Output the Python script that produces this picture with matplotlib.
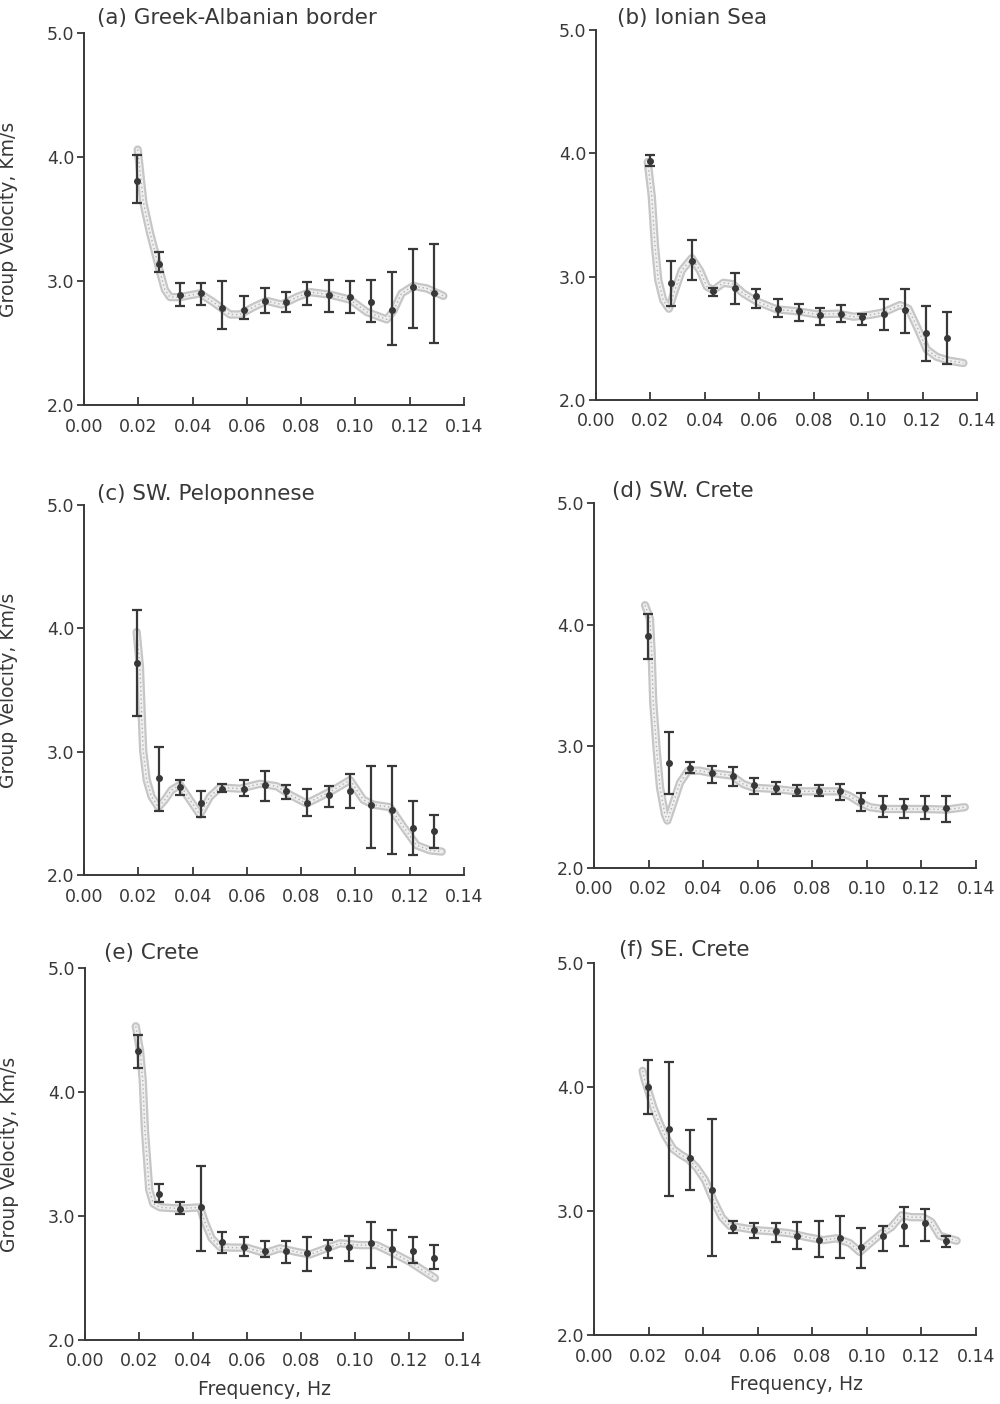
import matplotlib
matplotlib.use("Agg")
import matplotlib.pyplot as plt

plt.rcParams['font.family'] = ['DejaVu Sans']

# ---------------- data ----------------
freq = [0.0197, 0.0275, 0.0352, 0.0431, 0.0509, 0.0588, 0.0667, 0.0745,
        0.0823, 0.0901, 0.0979, 0.1058, 0.1136, 0.1213, 0.1291]

titles = ["(a) Greek-Albanian border", "(b) Ionian Sea", "(c) SW. Peloponnese",
          "(d) SW. Crete", "(e) Crete", "(f) SE. Crete"]

# measured group velocities (km/s) and error bar limits
vel_a = [3.81, 3.14, 2.89, 2.90, 2.78, 2.77, 2.84, 2.83, 2.90, 2.89, 2.87, 2.83, 2.77, 2.95, 2.90]
top_a = [4.02, 3.23, 2.98, 2.98, 3.00, 2.88, 2.94, 2.91, 2.99, 3.01, 3.00, 3.01, 3.07, 3.26, 3.30]
bot_a = [3.63, 3.07, 2.80, 2.81, 2.61, 2.69, 2.74, 2.75, 2.81, 2.75, 2.74, 2.67, 2.48, 2.62, 2.50]

vel_b = [3.94, 2.95, 3.13, 2.88, 2.91, 2.84, 2.74, 2.72, 2.69, 2.70, 2.67, 2.70, 2.73, 2.54, 2.50]
top_b = [3.99, 3.13, 3.30, 2.91, 3.03, 2.90, 2.82, 2.78, 2.75, 2.77, 2.70, 2.82, 2.90, 2.76, 2.71]
bot_b = [3.90, 2.76, 2.97, 2.84, 2.78, 2.75, 2.67, 2.64, 2.61, 2.63, 2.61, 2.57, 2.54, 2.32, 2.29]

vel_c = [3.72, 2.79, 2.71, 2.58, 2.70, 2.70, 2.73, 2.68, 2.58, 2.65, 2.68, 2.57, 2.53, 2.38, 2.36]
top_c = [4.15, 3.04, 2.77, 2.68, 2.74, 2.77, 2.84, 2.73, 2.70, 2.72, 2.82, 2.88, 2.88, 2.60, 2.49]
bot_c = [3.29, 2.52, 2.65, 2.47, 2.67, 2.64, 2.60, 2.62, 2.48, 2.55, 2.54, 2.22, 2.17, 2.16, 2.22]

vel_d = [3.91, 2.86, 2.82, 2.78, 2.76, 2.68, 2.66, 2.63, 2.63, 2.63, 2.55, 2.50, 2.50, 2.49, 2.49]
top_d = [4.09, 3.12, 2.87, 2.84, 2.83, 2.74, 2.71, 2.68, 2.68, 2.69, 2.62, 2.59, 2.57, 2.59, 2.59]
bot_d = [3.72, 2.61, 2.78, 2.70, 2.67, 2.61, 2.61, 2.59, 2.59, 2.56, 2.47, 2.42, 2.41, 2.40, 2.38]

vel_e = [4.33, 3.18, 3.06, 3.07, 2.79, 2.75, 2.72, 2.72, 2.70, 2.74, 2.75, 2.78, 2.73, 2.72, 2.66]
top_e = [4.46, 3.26, 3.11, 3.40, 2.87, 2.83, 2.80, 2.80, 2.83, 2.81, 2.84, 2.95, 2.89, 2.83, 2.77]
bot_e = [4.19, 3.11, 3.02, 2.72, 2.70, 2.68, 2.67, 2.62, 2.56, 2.66, 2.64, 2.58, 2.59, 2.62, 2.57]

vel_f = [4.00, 3.66, 3.43, 3.17, 2.87, 2.85, 2.84, 2.80, 2.77, 2.78, 2.71, 2.80, 2.88, 2.90, 2.76]
top_f = [4.22, 4.20, 3.65, 3.74, 2.92, 2.90, 2.90, 2.91, 2.92, 2.96, 2.86, 2.88, 3.03, 3.02, 2.80]
bot_f = [3.78, 3.12, 3.17, 2.64, 2.82, 2.78, 2.75, 2.69, 2.63, 2.62, 2.54, 2.68, 2.72, 2.76, 2.71]

# smoothed dispersion curves (stippled bands)
cf_a = [0.0198, 0.0210, 0.0219, 0.0243, 0.0262, 0.0278, 0.0298, 0.0317, 0.0354, 0.0427, 0.0476,
        0.0538, 0.0575, 0.0624, 0.0673, 0.0728, 0.0784, 0.0833, 0.0906, 0.0980, 0.1042, 0.1115,
        0.1140, 0.1170, 0.1213, 0.1263, 0.1324]
cv_a = [4.06, 3.81, 3.63, 3.39, 3.23, 3.09, 2.93, 2.87, 2.87, 2.90, 2.83,
        2.73, 2.73, 2.79, 2.84, 2.81, 2.87, 2.91, 2.89, 2.85, 2.75, 2.69,
        2.76, 2.90, 2.96, 2.94, 2.88]

cf_b = [0.0190, 0.0205, 0.0217, 0.0229, 0.0247, 0.0268, 0.0290, 0.0315, 0.0352, 0.0382, 0.0407,
        0.0431, 0.0468, 0.0502, 0.0541, 0.0590, 0.0664, 0.0738, 0.0811, 0.0890, 0.0946, 0.1007,
        0.1056, 0.1117, 0.1148, 0.1184, 0.1215, 0.1252, 0.1295, 0.1350]
cv_b = [3.93, 3.65, 3.24, 2.97, 2.81, 2.74, 2.89, 3.05, 3.15, 3.05, 2.92,
        2.89, 2.95, 2.94, 2.865, 2.80, 2.735, 2.72, 2.695, 2.70, 2.675, 2.69,
        2.71, 2.77, 2.74, 2.57, 2.41, 2.35, 2.32, 2.30]

cf_c = [0.0194, 0.0206, 0.0213, 0.0218, 0.0231, 0.0249, 0.0274, 0.0298, 0.0323, 0.0354, 0.0390,
        0.0427, 0.0464, 0.0501, 0.0575, 0.0648, 0.0710, 0.0759, 0.0820, 0.0870, 0.0919, 0.0980,
        0.1029, 0.1066, 0.1127, 0.1177, 0.1226, 0.1275, 0.1318]
cv_c = [3.97, 3.69, 3.28, 3.01, 2.77, 2.635, 2.55, 2.61, 2.69, 2.73, 2.61,
        2.49, 2.635, 2.71, 2.70, 2.74, 2.72, 2.65, 2.58, 2.635, 2.69, 2.77,
        2.61, 2.57, 2.55, 2.39, 2.24, 2.20, 2.19]

cf_d = [0.0187, 0.0205, 0.0211, 0.0217, 0.0230, 0.0242, 0.0260, 0.0269, 0.0290, 0.0315, 0.0345,
        0.0388, 0.0431, 0.0504, 0.0547, 0.0584, 0.0663, 0.0742, 0.0816, 0.0895, 0.0938, 0.0974,
        0.1011, 0.1060, 0.1133, 0.1212, 0.1292, 0.1359]
cv_d = [4.16, 4.05, 3.78, 3.37, 2.96, 2.66, 2.44, 2.39, 2.53, 2.70, 2.80,
        2.80, 2.78, 2.76, 2.69, 2.66, 2.65, 2.63, 2.63, 2.63, 2.59, 2.54,
        2.50, 2.485, 2.485, 2.485, 2.48, 2.50]

cf_e = [0.0188, 0.0204, 0.0214, 0.0222, 0.0231, 0.0238, 0.0253, 0.0278, 0.0352, 0.0426, 0.0444,
        0.0469, 0.0500, 0.0549, 0.0599, 0.0667, 0.0722, 0.0784, 0.0833, 0.0895, 0.0944, 0.1019,
        0.1080, 0.1142, 0.1204, 0.1253, 0.1296]
cv_e = [4.53, 4.33, 4.09, 3.69, 3.42, 3.21, 3.10, 3.07, 3.06, 3.07, 2.95,
        2.82, 2.75, 2.745, 2.745, 2.70, 2.74, 2.71, 2.69, 2.74, 2.78, 2.765,
        2.765, 2.70, 2.63, 2.56, 2.50]

cf_f = [0.0178, 0.0187, 0.0199, 0.0217, 0.0236, 0.0260, 0.0290, 0.0321, 0.0345, 0.0376, 0.0407,
        0.0437, 0.0468, 0.0498, 0.0541, 0.0596, 0.0657, 0.0718, 0.0779, 0.0840, 0.0889, 0.0938,
        0.0974, 0.1011, 0.1054, 0.1090, 0.1127, 0.1164, 0.1206, 0.1237, 0.1267, 0.1298, 0.1329]
cv_f = [4.13, 4.05, 3.97, 3.84, 3.73, 3.61, 3.50, 3.45, 3.42, 3.35, 3.25,
        3.09, 2.95, 2.88, 2.865, 2.845, 2.835, 2.82, 2.79, 2.765, 2.78, 2.74,
        2.67, 2.74, 2.82, 2.87, 2.965, 2.95, 2.95, 2.91, 2.80, 2.78, 2.76]

x_ticks = [0.00, 0.02, 0.04, 0.06, 0.08, 0.10, 0.12, 0.14]
x_ticklabels = ["0.00", "0.02", "0.04", "0.06", "0.08", "0.10", "0.12", "0.14"]
y_ticks = [2.0, 3.0, 4.0, 5.0]
y_ticklabels = ["2.0", "3.0", "4.0", "5.0"]

panels = [
    (vel_a, top_a, bot_a, cf_a, cv_a),
    (vel_b, top_b, bot_b, cf_b, cv_b),
    (vel_c, top_c, bot_c, cf_c, cv_c),
    (vel_d, top_d, bot_d, cf_d, cv_d),
    (vel_e, top_e, bot_e, cf_e, cv_e),
    (vel_f, top_f, bot_f, cf_f, cv_f),
]

# ---------------- layout ----------------
W, H = 1000, 1404
# (left px, right px, top px, bottom px)
boxes = [
    (84, 464, 33, 405),
    (596, 977, 30, 400),
    (84, 464, 505, 875),
    (594, 976, 503, 868),
    (85, 463, 968, 1340),
    (594, 976, 963, 1335),
]
title_pos = [(97, 18), (617, 18), (97, 494), (612, 491), (104, 953), (619, 950)]

ink = '#383838'
fig = plt.figure(figsize=(W / 100, H / 100), dpi=100)
fig.patch.set_facecolor('white')

for i, (vel, top, bot, cf, cv) in enumerate(panels):
    l, r, t, b = boxes[i]
    ax = fig.add_axes([l / W, 1 - b / H, (r - l) / W, (b - t) / H])
    ax.set_xlim(0.0, 0.14)
    ax.set_ylim(2.0, 5.0)
    for s in ('top', 'right'):
        ax.spines[s].set_visible(False)
    for s in ('left', 'bottom'):
        ax.spines[s].set_linewidth(1.4)
        ax.spines[s].set_color(ink)

    # stippled band
    ax.plot(cf, cv, color='#c6c6c6', lw=6.0, solid_capstyle='round',
            solid_joinstyle='round', zorder=1)
    ax.plot(cf, cv, color='#efefef', lw=2.8, solid_capstyle='round',
            solid_joinstyle='round', zorder=1.5)
    ax.plot(cf, cv, color='#b0b0b0', lw=1.0, ls=(0, (1, 2)), zorder=1.6)

    yerr = [[v - lo for v, lo in zip(vel, bot)], [hi - v for v, hi in zip(vel, top)]]
    ax.errorbar(freq, vel, yerr=yerr, fmt='o', ms=4, color=ink, ecolor=ink,
                elinewidth=1.6, capsize=3.6, capthick=1.6, zorder=3)

    ax.set_xticks(x_ticks)
    ax.set_xticklabels(x_ticklabels)
    ax.set_yticks(y_ticks)
    ax.set_yticklabels(y_ticklabels)
    ax.tick_params(axis='x', direction='in', length=6, width=1.3, colors=ink,
                   labelsize=12.5, pad=9)
    ax.tick_params(axis='y', direction='out', length=5, width=1.3, colors=ink,
                   labelsize=12.5, pad=2)

    fig.text(title_pos[i][0] / W, 1 - title_pos[i][1] / H, titles[i],
             fontsize=15.5, color=ink, ha='left', va='center')

    if i % 2 == 0:
        ax.set_ylabel("Group Velocity, Km/s", fontsize=13.5, color=ink)
        ax.yaxis.set_label_coords(-0.174, 0.5)
    if i >= 4:
        ax.set_xlabel("Frequency, Hz", fontsize=13.5, color=ink)
        ax.xaxis.set_label_coords(0.476 if i == 4 else 0.53, -0.108)

fig.savefig("out.png", dpi=100, facecolor='white')
